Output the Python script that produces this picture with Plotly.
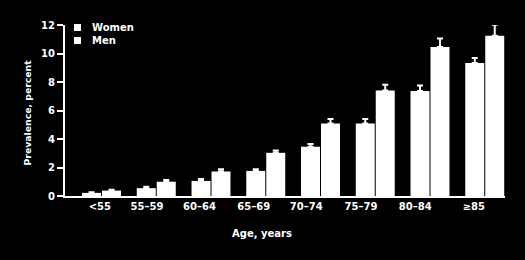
import plotly.graph_objects as go

categories = ["<55", "55–59", "60–64", "65–69", "70–74", "75–79", "80–84", "≥85"]
women = [0.22, 0.55, 1.06, 1.76, 3.46, 5.08, 7.36, 9.34]
women_err = [0.05, 0.1, 0.14, 0.12, 0.19, 0.33, 0.39, 0.35]
men = [0.38, 1.0, 1.72, 3.03, 5.08, 7.41, 10.45, 11.24]
men_err = [0.06, 0.13, 0.16, 0.17, 0.33, 0.4, 0.6, 0.78]
y_ticks = [0, 2, 4, 6, 8, 10, 12]

# style: horizontal nudge of each category label (in category units)
label_nudge = [-0.03, -0.17, -0.21, -0.22, -0.26, -0.26, -0.27, -0.2]

FONT = dict(family="DejaVu Sans", size=10, color="white", weight="bold")

fig = go.Figure()
for name, vals, errs in [("Women", women, women_err), ("Men", men, men_err)]:
    fig.add_trace(go.Bar(
        name=name, x=list(range(len(categories))), y=vals,
        marker=dict(color="white", line=dict(width=0)),
        error_y=dict(type="data", array=errs, arrayminus=[0] * len(errs), symmetric=False,
                     color="white", thickness=2, width=3),
    ))

fig.update_layout(
    width=525, height=260,
    margin=dict(l=65, r=20, t=25, b=64),
    paper_bgcolor="black", plot_bgcolor="black",
    barmode="group", bargap=0.27, bargroupgap=0.05,
    showlegend=False,
    font=FONT,
)
fig.update_xaxes(
    range=[-0.667, 7.37],
    tickvals=[i + d for i, d in enumerate(label_nudge)], ticktext=categories,
    showline=True, linecolor="white", linewidth=2, showgrid=False, zeroline=False,
    ticks="", tickfont=FONT,
)
fig.update_yaxes(
    range=[0, 12], tickvals=y_ticks, showline=True, linecolor="white", linewidth=2,
    showgrid=False, zeroline=False, ticks="outside", ticklen=6, tickwidth=2,
    tickcolor="white", tickfont=FONT,
)
# legend drawn manually
for i, name in enumerate(["Women", "Men"]):
    yy = 27.5 + 13 * i
    fig.add_shape(type="rect", xref="paper", yref="paper",
                  x0=(74 - 65) / 440, x1=(81 - 65) / 440,
                  y0=(196 - (yy + 3.5)) / 171, y1=(196 - (yy - 3.5)) / 171,
                  fillcolor="white", line=dict(width=0))
    fig.add_annotation(text=name, xref="paper", yref="paper",
                       x=(90 - 65) / 440, y=(196 - yy) / 171,
                       xanchor="left", yanchor="middle", showarrow=False, font=FONT)
fig.add_annotation(text="Age, years", xref="paper", yref="paper",
                   x=(262 - 65) / 440, y=(196 - 233) / 171,
                   xanchor="center", yanchor="middle", showarrow=False, font=FONT)
fig.add_annotation(text="Prevalence, percent", xref="paper", yref="paper",
                   x=(27 - 65) / 440, y=(196 - 112.5) / 171, textangle=-90,
                   xanchor="center", yanchor="middle", showarrow=False,
                   font=dict(FONT, size=9.3))

fig.write_html("out.html")
